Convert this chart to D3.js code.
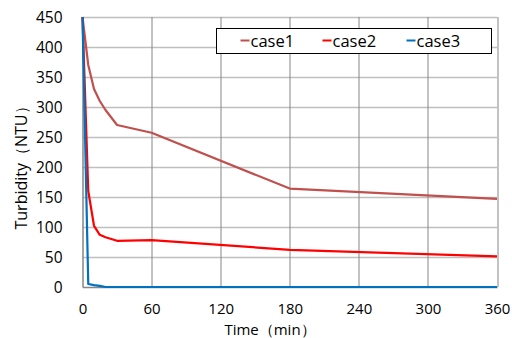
<!DOCTYPE html>
<html>
<head>
<meta charset="utf-8">
<script src="https://cdn.jsdelivr.net/npm/d3@7/dist/d3.min.js"></script>
<style>
  body { margin: 0; background: #fff; }
  text { font-family: "Open Sans", "Noto Sans", sans-serif; fill: #000; }
</style>
</head>
<body>
<div id="chart"></div>
<script>
// data
var times = [0, 5, 10, 15, 20, 30, 60, 180, 360];
var case1 = [450, 370, 330, 310, 295, 270, 257, 164, 147];
var case2 = [450, 160, 102, 87, 83, 77, 78, 62, 51];
var case3 = [450, 5, 3, 2, 0, 0, 0, 0, 0];
var seriesNames = ["case1", "case2", "case3"];
var seriesColors = ["#C0504D", "#FF0000", "#0070C0"];
var xTicks = [0, 60, 120, 180, 240, 300, 360];
var yTicks = [0, 50, 100, 150, 200, 250, 300, 350, 400, 450];

var svgWidth = 512;
var svgHeight = 338;
var margin = { top: 17, right: 15, bottom: 51, left: 82.5 };
var width = svgWidth - margin.left - margin.right;
var height = svgHeight - margin.top - margin.bottom;

var svg = d3.select("#chart")
  .append("svg")
  .attr("width", svgWidth)
  .attr("height", svgHeight);

var chartGroup = svg.append("g")
  .attr("transform", `translate(${margin.left}, ${margin.top})`);

var x = d3.scaleLinear().domain([0, 360]).range([0, width]);
var y = d3.scaleLinear().domain([0, 450]).range([height, 0]);

// horizontal grid (light)
chartGroup.append("g")
  .selectAll("line")
  .data(yTicks.filter(d => d > 0))
  .enter()
  .append("line")
  .attr("x1", 0)
  .attr("x2", width)
  .attr("y1", d => Math.round(y(d)) + 0.5)
  .attr("y2", d => Math.round(y(d)) + 0.5)
  .attr("stroke", "#BFBFBF")
  .attr("stroke-width", 1.5);

// vertical grid (darker)
chartGroup.append("g")
  .selectAll("line")
  .data(xTicks.filter(d => d > 0))
  .enter()
  .append("line")
  .attr("x1", d => Math.round(x(d)) + 0.5)
  .attr("x2", d => Math.round(x(d)) + 0.5)
  .attr("y1", 0)
  .attr("y2", height)
  .attr("stroke", "#868686")
  .attr("stroke-width", 1);

// axes
var bottomAxis = d3.axisBottom(x).tickValues(xTicks).tickSize(0).tickPadding(16);
var leftAxis = d3.axisLeft(y).tickValues(yTicks).tickSize(0).tickPadding(20);

var xAxis = chartGroup.append("g")
  .attr("transform", `translate(0, ${height})`)
  .call(bottomAxis);
xAxis.select(".domain").attr("stroke", "#868686").attr("stroke-width", 1.5);
xAxis.selectAll("text").style("font-size", "15px").style("font-family", "Open Sans");

var yAxis = chartGroup.append("g").call(leftAxis);
yAxis.select(".domain").attr("stroke", "#868686").attr("stroke-width", 1.5);
yAxis.selectAll("text").style("font-size", "15.5px").style("font-family", "Open Sans").attr("dy", "0.35em");

// lines
var allSeries = [case1, case2, case3];
var line = d3.line()
  .x((d, i) => x(times[i]))
  .y(d => y(d));

chartGroup.selectAll(".series")
  .data(allSeries)
  .enter()
  .append("path")
  .attr("class", "series")
  .attr("fill", "none")
  .attr("stroke", (d, i) => seriesColors[i])
  .attr("stroke-width", 2.2)
  .attr("stroke-linejoin", "round")
  .attr("d", line);

// axis labels
svg.append("text")
  .attr("transform", "translate(27, 164) rotate(-90)")
  .attr("text-anchor", "middle")
  .style("font-size", "16px")
  .text("Turbidity（NTU）");

svg.append("text")
  .attr("x", 270)
  .attr("y", 335)
  .attr("text-anchor", "middle")
  .style("font-size", "15px")
  .text("Time（min）");

// legend
var legend = svg.append("g").attr("transform", "translate(216.5, 28.5)");
legend.append("rect")
  .attr("width", 275)
  .attr("height", 25)
  .attr("fill", "#fff")
  .attr("stroke", "#000")
  .attr("stroke-width", 1);

var legendX = [24, 106, 190];
seriesNames.forEach(function(name, i) {
  legend.append("line")
    .attr("x1", legendX[i])
    .attr("x2", legendX[i] + 9)
    .attr("y1", 12)
    .attr("y2", 12)
    .attr("stroke", seriesColors[i])
    .attr("stroke-width", 2);
  legend.append("text")
    .attr("x", legendX[i] + 10)
    .attr("y", 18)
    .style("font-size", "16.5px")
    .text(name);
});
</script>
</body>
</html>
